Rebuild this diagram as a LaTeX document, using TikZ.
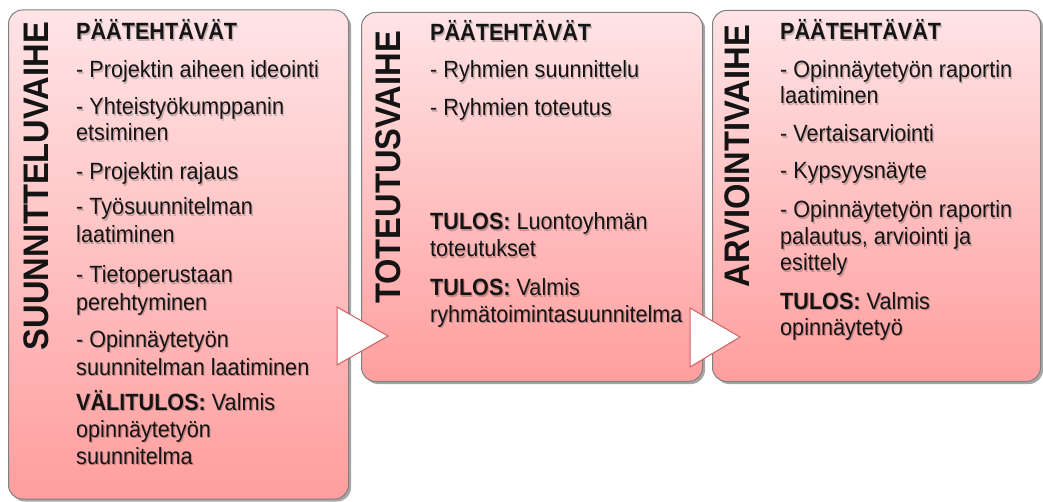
\documentclass[tikz,border=0pt]{standalone}
\usepackage{fontspec}
\setmainfont{Liberation Sans}[FakeStretch=0.92]
\usetikzlibrary{shadows}

\definecolor{boxtop}{RGB}{255,228,230}
\definecolor{boxbot}{RGB}{255,158,158}
\definecolor{boxline}{RGB}{128,128,128}
\definecolor{arrowline}{RGB}{205,95,95}
\definecolor{ink}{RGB}{20,20,20}

\tikzset{
  phase/.style={draw=boxline, line width=1pt, rounded corners=14pt,
    top color=boxtop, bottom color=boxbot, inner sep=0pt, anchor=north west,
    drop shadow={shadow xshift=2.5pt, shadow yshift=-2.5pt, opacity=0.35, fill=black}},
  chevron/.style={fill=white, draw=arrowline, line width=1pt, line join=miter},
  phasetitle/.style={rotate=90, anchor=east, inner sep=0pt, text=ink,
    font=\fontsize{35.5}{40}\selectfont\bfseries},
  txt/.style={anchor=base west, inner sep=0pt, text=ink,
    font=\fontsize{23.5}{27}\selectfont},
  txtshadow/.style={txt, text=black, opacity=0.22, xshift=1.2pt, yshift=-1.2pt},
}

% one line of text with its soft shadow
\newcommand{\tline}[4]{%
  \node[txtshadow] (#1s) at (#2,#3) {#4};
  \node[txt] (#1) at (#2,#3) {#4};}

\begin{document}
\begin{tikzpicture}[x=1pt, y=-1pt]
\useasboundingbox (0,0) rectangle (1043,502);

% the three phase boxes
\node[phase, minimum width=340pt, minimum height=489pt] (b1) at (8,9.5) {};
\node[phase, minimum width=341pt, minimum height=369pt] (b2) at (361,12) {};
\node[phase, minimum width=328pt, minimum height=371pt] (b3) at (712,10) {};

% chevrons between the phases
\draw[chevron] (337,307) -- (388,336) -- (337,365) -- cycle;
\draw[chevron] (690,308) -- (740,337) -- (690,367) -- cycle;

% vertical phase titles
\node[phasetitle] (t1) at (36,22) {SUUNNITTELUVAIHE};
\node[phasetitle] (t2) at (388,31) {TOTEUTUSVAIHE};
\node[phasetitle] (t3) at (737,25) {ARVIOINTIVAIHE};

% planning phase
\tline{a0}{76}{40}{\textbf{PÄÄTEHTÄVÄT}}
\tline{a1}{76}{78}{- Projektin aiheen ideointi}
\tline{a2}{76}{115}{- Yhteistyökumppanin}
\tline{a3}{76}{141}{etsiminen}
\tline{a4}{76}{180}{- Projektin rajaus}
\tline{a5}{76}{215}{- Työsuunnitelman}
\tline{a6}{76}{243}{laatiminen}
\tline{a7}{76}{283}{- Tietoperustaan}
\tline{a8}{76}{310}{perehtyminen}
\tline{a9}{76}{347}{- Opinnäytetyön}
\tline{a10}{76}{375}{suunnitelman laatiminen}
\tline{a11}{76}{410}{\textbf{VÄLITULOS:} Valmis}
\tline{a12}{76}{437}{opinnäytetyön}
\tline{a13}{76}{464}{suunnitelma}

% implementation phase
\tline{c0}{430}{41}{\textbf{PÄÄTEHTÄVÄT}}
\tline{c1}{430}{78}{- Ryhmien suunnittelu}
\tline{c2}{430}{116}{- Ryhmien toteutus}
\tline{c3}{430}{230}{\textbf{TULOS:} Luontoyhmän}
\tline{c4}{430}{257}{toteutukset}
\tline{c5}{430}{296}{\textbf{TULOS:} Valmis}
\tline{c6}{430}{322}{ryhmätoimintasuunnitelma}

% evaluation phase
\tline{e0}{780}{40}{\textbf{PÄÄTEHTÄVÄT}}
\tline{e1}{780}{78}{- Opinnäytetyön raportin}
\tline{e2}{780}{104}{laatiminen}
\tline{e3}{780}{142}{- Vertaisarviointi}
\tline{e4}{780}{179}{- Kypsyysnäyte}
\tline{e5}{780}{218}{- Opinnäytetyön raportin}
\tline{e6}{780}{245}{palautus, arviointi ja}
\tline{e7}{780}{271}{esittely}
\tline{e8}{780}{309}{\textbf{TULOS:} Valmis}
\tline{e9}{780}{335}{opinnäytetyö}

\end{tikzpicture}
\end{document}
